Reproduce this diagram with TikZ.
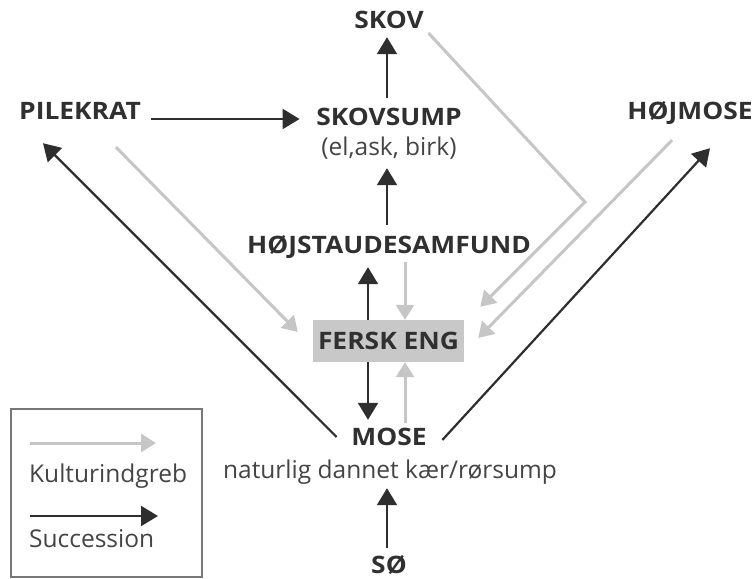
\documentclass[tikz,border=0pt]{standalone}
\usepackage{fontspec}
\setmainfont{Open Sans}
\newfontfamily\headf[FakeStretch=1.1]{Open Sans}
\usetikzlibrary{arrows.meta}
\definecolor{ink}{HTML}{2E2E2E}
\definecolor{txt}{HTML}{303030}
\definecolor{subtxt}{HTML}{444444}
\definecolor{cult}{HTML}{C6C6C6}
\definecolor{boxfill}{HTML}{C8C8C8}
\definecolor{legline}{HTML}{777777}
\tikzset{
  lab/.style={font=\headf\bfseries\fontsize{24}{24}\selectfont, text=txt, inner sep=0pt, text height=17pt, text depth=0pt},
  sublab/.style={font=\fontsize{24.5}{24.5}\selectfont, text=subtxt, inner sep=0pt},
  succ/.style={draw=ink, line width=2.2pt, -{Triangle[length=17pt,width=20pt]}},
  cultarr/.style={draw=cult, line width=3pt, -{Triangle[length=15pt,width=18pt]}},
}
\begin{document}
\begin{tikzpicture}[x=1pt,y=-1pt]
\useasboundingbox (0,0) rectangle (756,579);
% nodes
\node[lab, minimum width=69pt] (skov) at (389,20) {SKOV};
\node[lab, minimum width=114pt] (pile) at (80,111) {PILEKRAT};
\node[lab, minimum width=145pt] (skovsump) at (389,117) {SKOVSUMP};
\node[sublab, text height=20pt, text depth=6pt] (birk) at (389,148) {(el,ask, birk)};
\node[lab, minimum width=124pt] (hoejmose) at (690,111) {HØJMOSE};
\node[lab, minimum width=282pt] (hoej) at (389,245) {HØJSTAUDESAMFUND};
\node[lab, minimum width=151pt, minimum height=42pt, fill=boxfill] (fersk) at (388.5,341) {FERSK ENG};
\node[lab, minimum width=75pt] (mose) at (389,437) {MOSE};
\node[sublab, text height=16pt, text depth=5pt] (natur) at (390,472.5) {naturlig dannet kær/rørsump};
\node[lab, minimum width=34pt] (so) at (389,565) {SØ};
% legend
\node[draw=legline, line width=1.2pt, minimum width=191pt, minimum height=168pt, inner sep=0pt] (legend) at (106.5,493) {};
\node[sublab, anchor=base west] (kult) at (29,482) {Kulturindgreb};
\node[sublab, anchor=base west] (succtxt) at (29,547) {Succession};
\coordinate (lgA) at (30,443);
\coordinate (lgB) at (156,443);
\coordinate (lgC) at (30,516);
\coordinate (lgD) at (158,516);
\draw[cultarr] (lgA) -- (lgB);
\draw[succ] (lgC) -- (lgD);
% succession arrows
\draw[succ] ([xshift=-2pt,yshift=10.5pt]skovsump.north) -- ([xshift=-2pt,yshift=-8.5pt]skov.south);
\draw[succ] ([xshift=-2pt,yshift=11.5pt]hoej.north) -- ([xshift=-2pt,yshift=-7pt]birk.south);
\draw[succ] ([xshift=-20.5pt]fersk.north) -- ([xshift=-21pt,yshift=-13.5pt]hoej.south);
\draw[succ] ([xshift=-20.5pt]fersk.south) -- ([xshift=-21pt,yshift=8.5pt]mose.north);
\draw[succ] ([xshift=-2pt,yshift=8.5pt]so.north) -- ([xshift=-3pt,yshift=-5pt]natur.south);
\draw[succ] ([xshift=10pt,yshift=-8pt]pile.east) -- ([xshift=-16.5pt,yshift=-2pt]skovsump.west);
\draw[succ] ([xshift=-14.5pt]mose.west) -- ([xshift=-37pt,yshift=-23.5pt]pile.south);
\draw[succ] ([xshift=15.5pt,yshift=-3pt]mose.east) -- ([xshift=20pt,yshift=-28.5pt]hoejmose.south);
% cultural arrows
\draw[cultarr] ([xshift=16pt,yshift=-8.5pt]hoej.south) -- ([xshift=16.5pt]fersk.north);
\draw[cultarr] ([xshift=16pt,yshift=5.5pt]mose.north) -- ([xshift=16.5pt]fersk.south);
\draw[cultarr] ([xshift=36pt,yshift=-27.5pt]pile.south) -- ([xshift=-15pt,yshift=9pt]fersk.west);
\coordinate (bend) at (585,202);
\draw[cultarr] ([xshift=4.5pt,yshift=-13pt]skov.east) -- (bend) -- ([xshift=16pt,yshift=13pt]fersk.north east);
\draw[cultarr] ([xshift=-18pt,yshift=-20.5pt]hoejmose.south) -- ([xshift=14pt,yshift=3pt]fersk.east);
\end{tikzpicture}
\end{document}
